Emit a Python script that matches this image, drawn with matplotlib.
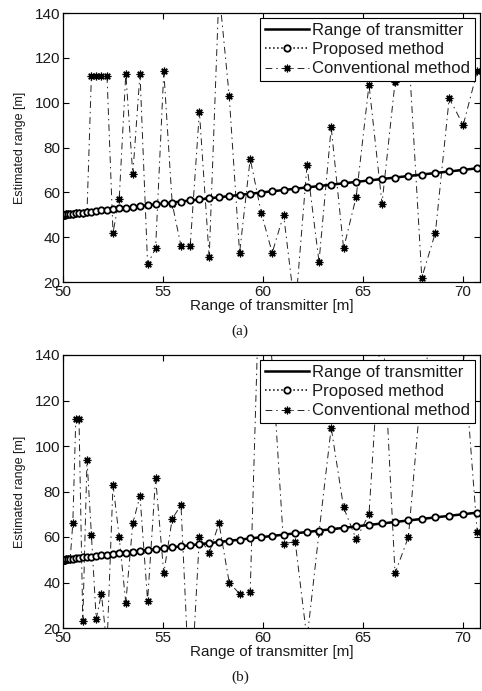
import matplotlib
matplotlib.use('Agg')
import matplotlib.pyplot as plt

# transmitter range [m] (x axis, also the true-range curve)
true_range = [50.00, 50.01, 50.04, 50.09, 50.16, 50.25, 50.36, 50.49, 50.64, 50.80,
              50.99, 51.20, 51.42, 51.66, 51.92, 52.20, 52.50, 52.81, 53.14, 53.49,
              53.85, 54.23, 54.63, 55.04, 55.46, 55.90, 56.36, 56.82, 57.31, 57.80,
              58.31, 58.83, 59.36, 59.91, 60.46, 61.03, 61.61, 62.20, 62.80, 63.41,
              64.03, 64.66, 65.30, 65.95, 66.60, 67.27, 67.94, 68.62, 69.31, 70.01,
              70.71]

# proposed method estimates (sit on the true range line)
proposed_a = [50.00, 50.01, 50.04, 50.09, 50.16, 50.25, 50.36, 50.49, 50.64, 50.80,
              50.99, 51.20, 51.42, 51.66, 51.92, 52.20, 52.50, 52.81, 53.14, 53.49,
              53.85, 54.23, 54.63, 55.04, 55.46, 55.90, 56.36, 56.82, 57.31, 57.80,
              58.31, 58.83, 59.36, 59.91, 60.46, 61.03, 61.61, 62.20, 62.80, 63.41,
              64.03, 64.66, 65.30, 65.95, 66.60, 67.27, 67.94, 68.62, 69.31, 70.01,
              70.71]
proposed_b = list(proposed_a)

# conventional method estimates
conventional_a = [50.0, 50.0, 50.0, 50.1, 50.2, 50.3, 50.4, 50.5, 50.6, 50.8,
                  51.0, 51.2, 112, 112, 112, 112, 42, 57, 113, 68,
                  113, 28, 35, 114, 55, 36, 36, 96, 31, 150,
                  103, 33, 75, 51, 33, 50, 7, 72, 29, 89,
                  35, 58, 108, 55, 109, 125, 22, 42, 102, 90,
                  114]
conventional_b = [50.0, 50.0, 50.0, 50.1, 50.2, 50.3, 50.4, 66, 112, 112,
                  23, 94, 61, 24, 35, 12, 83, 60, 31, 66,
                  78, 32, 86, 44, 68, 74, -14, 60, 53, 66,
                  40, 35, 36, 200, 136, 57, 58, 15, 62, 108,
                  73, 59, 70, 160, 44, 60, 128, 155, 160, 143,
                  62]

x_ticks = [50, 55, 60, 65, 70]
y_ticks = [20, 40, 60, 80, 100, 120, 140]

plt.rcParams['font.family'] = ['Liberation Sans', 'DejaVu Sans']
TXT = '#1a1a1a'


def draw_panel(ax, proposed, conventional):
    ax.plot(true_range, true_range, '-', color='k', lw=1.8,
            label='Range of transmitter', zorder=3)
    ax.plot(true_range, proposed, ':', color='k', lw=1.1, marker='o', ms=4.6,
            mfc='white', mec='k', mew=1.3, label='Proposed method', zorder=4)
    ax.plot(true_range, conventional, color='#222222', lw=0.7, dashes=(7, 4, 1.5, 4),
            marker=(8, 2, 0), ms=5.5, mew=0.9, mec='k', label='Conventional method',
            zorder=2)

    ax.set_xlim(50, 70.85)
    ax.set_ylim(20, 140)
    ax.set_xticks(x_ticks)
    ax.set_yticks(y_ticks)
    ax.tick_params(direction='in', top=True, right=True, length=4, width=0.8,
                   labelsize=11, pad=2, colors='k', labelcolor=TXT)
    for s in ax.spines.values():
        s.set_linewidth(0.9)
    ax.set_xlabel('Range of transmitter [m]', fontsize=11, color=TXT, labelpad=0)
    ax.set_ylabel('Estimated range [m]', fontsize=9, color=TXT, labelpad=6)

    leg = ax.legend(loc='upper right', fontsize=12, fancybox=False, framealpha=1,
                    edgecolor='k', borderpad=0.3, labelspacing=0.25,
                    handlelength=2.6, handletextpad=0.2, borderaxespad=0.3)
    leg.get_frame().set_linewidth(0.8)
    for t in leg.get_texts():
        t.set_color(TXT)


fig = plt.figure(figsize=(4.82, 6.91), dpi=100)
ax1 = fig.add_axes([63 / 482, 1 - 282 / 691, 417 / 482, 269 / 691])
ax2 = fig.add_axes([63 / 482, 1 - 628 / 691, 417 / 482, 273 / 691])

draw_panel(ax1, proposed_a, conventional_a)
draw_panel(ax2, proposed_b, conventional_b)

fig.text(240 / 482, 1 - 331 / 691, '(a)', ha='center', va='center', fontsize=11,
         family=['Liberation Serif', 'DejaVu Serif'], color=TXT)
fig.text(240 / 482, 1 - 677 / 691, '(b)', ha='center', va='center', fontsize=11,
         family=['Liberation Serif', 'DejaVu Serif'], color=TXT)

fig.savefig('out.png', dpi=100)
